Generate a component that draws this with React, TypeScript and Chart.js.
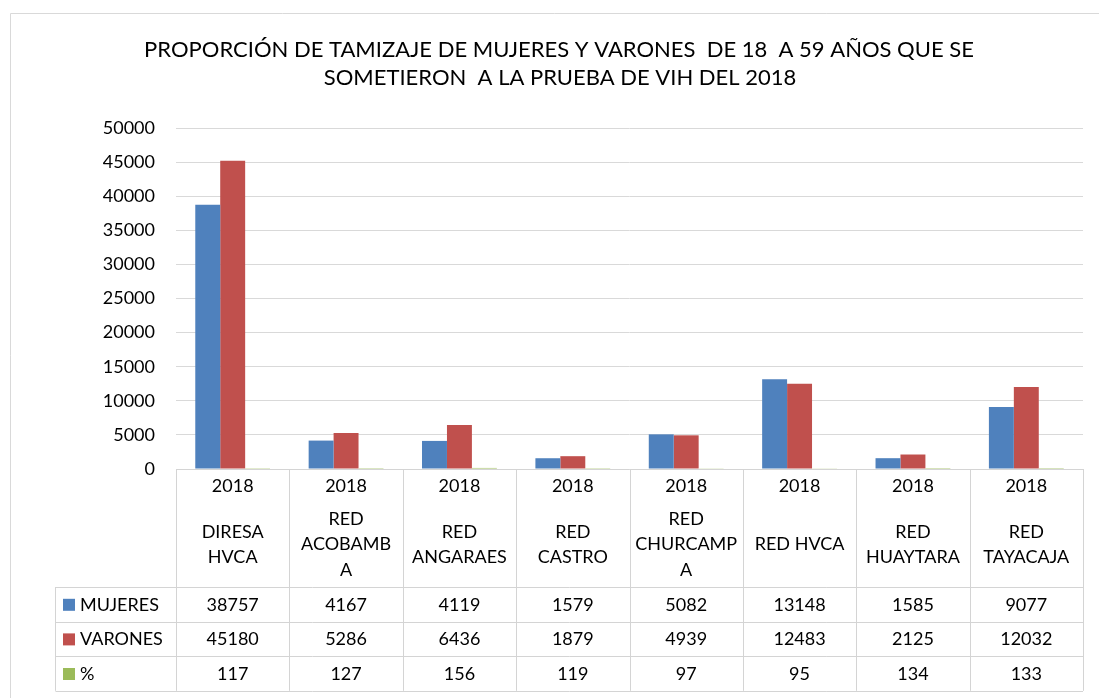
import React, { useEffect, useRef } from "react";
import { Chart, registerables } from "chart.js";
Chart.register(...registerables);

const titleLines = [
  "PROPORCIÓN DE TAMIZAJE DE MUJERES Y VARONES  DE 18  A 59 AÑOS QUE SE",
  "SOMETIERON  A LA PRUEBA DE VIH DEL 2018",
];
const years = ["2018", "2018", "2018", "2018", "2018", "2018", "2018", "2018"];
const categoryLines = [
  ["DIRESA", "HVCA"],
  ["RED", "ACOBAMB", "A"],
  ["RED", "ANGARAES"],
  ["RED", "CASTRO"],
  ["RED", "CHURCAMP", "A"],
  ["RED HVCA"],
  ["RED", "HUAYTARA"],
  ["RED", "TAYACAJA"],
];
const seriesNames = ["MUJERES", "VARONES", "%"];
const mujeres = [38757, 4167, 4119, 1579, 5082, 13148, 1585, 9077];
const varones = [45180, 5286, 6436, 1879, 4939, 12483, 2125, 12032];
const porcentaje = [117, 127, 156, 119, 97, 95, 134, 133];
const seriesColors = ["#4F81BD", "#C0504D", "#9BBB59"];
const yMin = 0;
const yMax = 50000;
const yStep = 5000;

const FONT = "Lato, 'Liberation Sans', sans-serif";
const GRID = "#d9d9d9";
const TABLE_LINE = "#d4d4d4";

const tablePlugin = {
  id: "excelTable",
  afterDraw(chart: any) {
    const ctx = chart.ctx as CanvasRenderingContext2D;
    const x = chart.scales.x;
    const area = chart.chartArea;
    const n = categoryLines.length;
    const colW = (area.right - area.left) / n;
    const top = area.bottom;
    const headerBottom = top + 118;
    const rowH = 34.6;
    const rowYs = [headerBottom, headerBottom + rowH, headerBottom + 2 * rowH, headerBottom + 3 * rowH];
    const legendLeft = 55.5;
    const allSeries = [mujeres, varones, porcentaje];

    ctx.save();
    // frame
    ctx.strokeStyle = GRID;
    ctx.lineWidth = 1;
    ctx.beginPath();
    ctx.moveTo(10.5, chart.height);
    ctx.lineTo(10.5, 13.5);
    ctx.lineTo(chart.width, 13.5);
    ctx.stroke();

    // title
    ctx.fillStyle = "#000";
    ctx.font = `22px ${FONT}`;
    ctx.textAlign = "center";
    ctx.textBaseline = "alphabetic";
    ctx.fillText(titleLines[0], 559, 57);
    ctx.fillText(titleLines[1], 560, 85);

    // table lines
    ctx.strokeStyle = TABLE_LINE;
    ctx.beginPath();
    ctx.moveTo(area.left, Math.round(top) + 0.5);
    ctx.lineTo(area.right, Math.round(top) + 0.5);
    for (const ry of rowYs) {
      ctx.moveTo(legendLeft, Math.round(ry) + 0.5);
      ctx.lineTo(area.right, Math.round(ry) + 0.5);
    }
    const bottom = rowYs[3];
    for (let i = 0; i <= n; i++) {
      const bx = Math.round(x.getPixelForValue(i) - colW / 2) + 0.5;
      ctx.moveTo(bx, top);
      ctx.lineTo(bx, bottom);
    }
    ctx.moveTo(legendLeft, rowYs[0]);
    ctx.lineTo(legendLeft, bottom);
    ctx.stroke();

    // header text
    ctx.fillStyle = "#000";
    ctx.font = `18px ${FONT}`;
    ctx.textAlign = "center";
    ctx.textBaseline = "middle";
    const lineH = 25.5;
    for (let i = 0; i < n; i++) {
      const cx = x.getPixelForValue(i);
      ctx.fillText(years[i], cx, top + 17);
      const lines = categoryLines[i];
      const mid = top + 75.5;
      lines.forEach((ln, k) => {
        ctx.fillText(ln, cx, mid + (k - (lines.length - 1) / 2) * lineH);
      });
      allSeries.forEach((s, r) => {
        const cy = (rowYs[r] + rowYs[r + 1]) / 2 + 0.5;
        ctx.fillText(String(s[i]), cx, cy);
      });
    }
    // legend column
    ctx.textAlign = "left";
    seriesNames.forEach((name, r) => {
      const cy = (rowYs[r] + rowYs[r + 1]) / 2 + 0.5;
      ctx.fillStyle = seriesColors[r];
      ctx.fillRect(63, cy - 6, 12, 12);
      ctx.fillStyle = "#000";
      ctx.fillText(name, 80, cy);
    });
    ctx.restore();
  },
};

export default function App() {
  const ref = useRef<HTMLCanvasElement>(null);
  useEffect(() => {
    if (!ref.current) return;
    const chart = new Chart(ref.current, {
      type: "bar",
      data: {
        labels: categoryLines.map((l) => l.join(" ")),
        datasets: [
          { label: seriesNames[0], data: mujeres, backgroundColor: seriesColors[0] },
          { label: seriesNames[1], data: varones, backgroundColor: seriesColors[1] },
          { label: seriesNames[2], data: porcentaje, backgroundColor: seriesColors[2] },
        ],
      },
      options: {
        responsive: false,
        animation: false,
        layout: { padding: { left: 20, right: 16, top: 128, bottom: 229 } },
        datasets: { bar: { categoryPercentage: 0.66, barPercentage: 1 } },
        plugins: { legend: { display: false }, tooltip: { enabled: false }, title: { display: false } },
        scales: {
          x: { display: false },
          y: {
            min: yMin,
            max: yMax,
            afterFit: (s: any) => {
              s.width = 156;
            },
            ticks: {
              stepSize: yStep,
              color: "#000",
              font: { family: FONT, size: 18 },
              padding: 21,
              callback: (v: any) => String(v),
            },
            grid: { color: GRID, lineWidth: 1, drawTicks: false },
            border: { display: false },
          },
        },
      },
      plugins: [tablePlugin],
    });
    return () => chart.destroy();
  }, []);
  return (
    <div style={{ position: "absolute", left: 0, top: 0, width: 1099, height: 698, background: "#fff" }}>
      <canvas ref={ref} width={1099} height={698} style={{ display: "block" }} />
    </div>
  );
}
